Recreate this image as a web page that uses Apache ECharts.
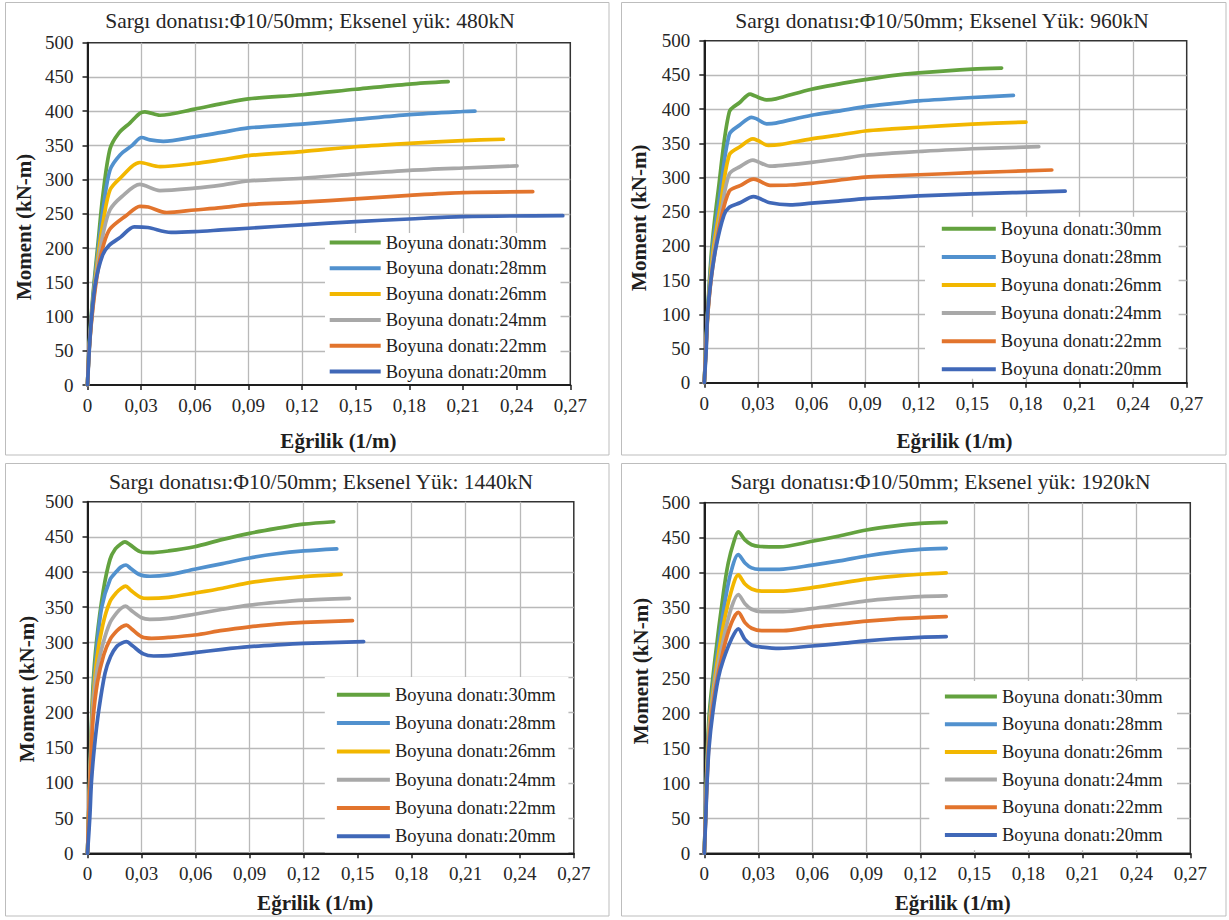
<!DOCTYPE html>
<html>
<head>
<meta charset="utf-8">
<script src="https://cdn.jsdelivr.net/npm/echarts@6/dist/echarts.min.js"></script>
<style>
html,body{margin:0;padding:0;background:#ffffff;}
#chart{width:1229px;height:920px;}
</style>
</head>
<body>
<div id="chart"></div>
<script>
// ---------- DATA ----------
const seriesNames = ['Boyuna donatı:30mm','Boyuna donatı:28mm','Boyuna donatı:26mm','Boyuna donatı:24mm','Boyuna donatı:22mm','Boyuna donatı:20mm'];
const panelTitles = [
  'Sargı donatısı:Φ10/50mm; Eksenel yük: 480kN',
  'Sargı donatısı:Φ10/50mm; Eksenel Yük: 960kN',
  'Sargı donatısı:Φ10/50mm; Eksenel Yük: 1440kN',
  'Sargı donatısı:Φ10/50mm; Eksenel yük: 1920kN'
];
const xAxisName = 'Eğrilik (1/m)';
const yAxisName = 'Moment (kN-m)';
const xRange = [0, 0.27, 0.03];
const yRange = [0, 500, 50];

// Panel 1 : 480 kN  [curvature, moment]
const p1_30 = [[0,0],[0.001,60],[0.003,130],[0.006,210],[0.0085,275],[0.0126,345],[0.0175,368],[0.0238,383],[0.0293,397],[0.0321,399],[0.0405,394],[0.06,403],[0.075,411],[0.09,418],[0.12,424],[0.15,432],[0.18,439.5],[0.2017,443]];
const p1_28 = [[0,0],[0.001,58],[0.003,125],[0.006,200],[0.009,262],[0.0126,314],[0.0182,336],[0.025,350],[0.0303,361.5],[0.0349,358],[0.0424,356],[0.06,362.5],[0.075,369],[0.09,375.5],[0.12,381],[0.15,388],[0.18,395],[0.21,399.5],[0.2167,400]];
const p1_26 = [[0,0],[0.001,56],[0.003,120],[0.006,190],[0.009,242],[0.0126,285],[0.0182,302],[0.0293,325],[0.0405,319],[0.06,323.5],[0.075,329],[0.09,335],[0.12,341],[0.15,348],[0.18,353],[0.21,357],[0.2326,359]];
const p1_24 = [[0,0],[0.001,55],[0.003,115],[0.006,180],[0.009,224],[0.0126,256],[0.0191,275],[0.0293,293],[0.0405,284],[0.06,287.5],[0.075,292],[0.09,298],[0.12,302],[0.15,308],[0.18,313.5],[0.21,317],[0.2402,320]];
const p1_22 = [[0,0],[0.001,54],[0.003,112],[0.006,170],[0.009,205],[0.0126,228],[0.0219,248],[0.0293,261],[0.034,260],[0.0443,252],[0.06,255.6],[0.075,259],[0.09,263.5],[0.12,267],[0.15,272],[0.18,277],[0.21,281],[0.249,282.4]];
const p1_20 = [[0,0],[0.001,52],[0.0023,100],[0.0045,150],[0.0085,190],[0.0121,204],[0.0185,216],[0.0261,231],[0.0337,230],[0.0467,223],[0.06,224],[0.075,226.5],[0.09,229],[0.12,234],[0.15,238.6],[0.18,242.5],[0.21,246],[0.2658,247.3]];

// Panel 2 : 960 kN
const p2_30 = [[0,0],[0.001,60],[0.0022,120],[0.0043,200],[0.008,285],[0.014,396],[0.02,410],[0.0256,422],[0.0285,419],[0.0349,413.5],[0.04,415],[0.06,429],[0.075,436.5],[0.09,443],[0.105,449],[0.12,453],[0.15,458.5],[0.1664,460]];
const p2_28 = [[0,0],[0.001,58],[0.0022,115],[0.0045,195],[0.0085,270],[0.014,363],[0.02,377],[0.0265,388],[0.029,386],[0.0349,378.5],[0.04,379.5],[0.06,391],[0.075,397],[0.09,403.5],[0.105,408],[0.12,412],[0.15,417],[0.173,420]];
const p2_26 = [[0,0],[0.001,56],[0.0022,112],[0.0048,190],[0.009,258],[0.014,333],[0.02,345],[0.0272,356.5],[0.03,354],[0.0358,347],[0.042,348],[0.06,356.5],[0.075,362],[0.09,368],[0.105,371],[0.12,373.5],[0.15,378],[0.18,381]];
const p2_24 = [[0,0],[0.001,54],[0.0022,108],[0.005,183],[0.0095,250],[0.014,305],[0.02,316],[0.0272,325.5],[0.03,323],[0.0368,316.5],[0.045,318],[0.06,322],[0.075,327],[0.09,332.5],[0.105,335.5],[0.12,338],[0.15,342],[0.1872,345]];
const p2_22 = [[0,0],[0.001,52],[0.002,102],[0.0045,165],[0.009,235],[0.014,280],[0.02,288],[0.0275,297.5],[0.03,296],[0.0368,288.5],[0.048,289],[0.06,291.5],[0.075,296],[0.09,300.5],[0.105,302.5],[0.12,304],[0.15,307],[0.1945,311]];
const p2_20 = [[0,0],[0.0011,50],[0.0018,100],[0.0037,150],[0.0067,200],[0.011,245],[0.014,256.5],[0.02,263],[0.0275,272],[0.03,270.5],[0.0368,263],[0.048,260],[0.06,262.5],[0.075,265.5],[0.09,269],[0.105,271],[0.12,273],[0.15,276],[0.202,280]];

// Panel 3 : 1440 kN
const p3_30 = [[0,0],[0.0008,70],[0.0018,150],[0.003,235],[0.0051,303],[0.0088,374],[0.0125,418],[0.0155,433],[0.0185,440],[0.0208,443],[0.0235,439],[0.0291,429],[0.0347,427.5],[0.045,430],[0.0594,436],[0.0745,446],[0.09,455],[0.105,462],[0.12,468],[0.1367,471.5]];
const p3_28 = [[0,0],[0.0008,68],[0.0018,145],[0.003,222],[0.0051,290],[0.0079,350],[0.0125,389],[0.0162,401],[0.0185,407],[0.0214,410],[0.024,405],[0.0291,396],[0.0347,394],[0.045,396],[0.0594,404],[0.075,412],[0.09,420],[0.105,426],[0.12,430],[0.1384,433]];
const p3_26 = [[0,0],[0.0008,66],[0.0018,140],[0.003,212],[0.0051,275],[0.0085,325],[0.0125,358],[0.0162,371],[0.0188,377],[0.0212,380],[0.024,374],[0.0295,364],[0.0335,362.5],[0.045,364],[0.0594,370],[0.075,377],[0.09,385],[0.105,390],[0.12,393.5],[0.1408,396.7]];
const p3_24 = [[0,0],[0.0008,64],[0.0018,134],[0.003,202],[0.0051,258],[0.0088,300],[0.0125,328],[0.0162,342],[0.019,349],[0.0212,351.5],[0.024,346],[0.03,335],[0.0346,332.7],[0.045,334],[0.0594,340],[0.075,347],[0.09,353],[0.105,357],[0.12,360],[0.1454,362.6]];
const p3_22 = [[0,0],[0.0008,60],[0.0018,125],[0.003,188],[0.0055,243],[0.009,282],[0.0125,304],[0.0162,316],[0.019,322],[0.0216,324.6],[0.0245,319],[0.03,308],[0.0356,305.7],[0.045,307],[0.0594,310.4],[0.075,317],[0.09,322],[0.105,326],[0.12,328.4],[0.1471,330.8]];
const p3_20 = [[0,0],[0.0013,52],[0.0022,102],[0.0039,153],[0.0063,204],[0.0097,256],[0.0128,280],[0.0162,294],[0.019,299],[0.0216,301],[0.025,295],[0.031,283.5],[0.0367,280.6],[0.045,281],[0.0594,285.3],[0.075,290],[0.09,293.8],[0.105,296.5],[0.12,298.6],[0.1533,301]];

// Panel 4 : 1920 kN
const p4_30 = [[0,0],[0.0008,70],[0.0016,140],[0.0028,200],[0.0059,276],[0.0106,371],[0.0133,414],[0.0165,445],[0.0189,458.6],[0.0226,447],[0.0263,440],[0.031,437.5],[0.0416,437],[0.06,445],[0.075,452.5],[0.09,461],[0.105,466.5],[0.12,470.5],[0.1344,472]];
const p4_28 = [[0,0],[0.0008,66],[0.0016,130],[0.003,195],[0.006,262],[0.0106,345],[0.0145,398],[0.0189,426],[0.0226,414],[0.0263,407],[0.0308,405],[0.0416,405],[0.06,411],[0.075,417],[0.09,424],[0.105,429.5],[0.12,433.5],[0.1344,435]];
const p4_26 = [[0,0],[0.0008,62],[0.0016,122],[0.003,188],[0.006,252],[0.0106,325],[0.0148,372],[0.0189,397],[0.0226,384],[0.0263,377],[0.0319,374],[0.0438,374],[0.06,378.8],[0.075,385],[0.09,391],[0.105,395],[0.12,398],[0.1344,400]];
const p4_24 = [[0,0],[0.0008,58],[0.0016,115],[0.003,180],[0.006,243],[0.0106,305],[0.015,350],[0.0189,369],[0.0226,356],[0.0263,348],[0.0319,344.6],[0.0438,344.6],[0.06,349],[0.075,354.5],[0.09,360],[0.105,363.5],[0.12,366],[0.1344,367]];
const p4_22 = [[0,0],[0.0008,55],[0.0016,108],[0.003,172],[0.006,232],[0.0106,290],[0.015,328],[0.0189,343.6],[0.0226,329],[0.0263,321],[0.0319,317.5],[0.0438,317.5],[0.06,323],[0.075,327],[0.09,331],[0.105,334],[0.12,336],[0.1344,337.5]];
const p4_20 = [[0,0],[0.0008,50],[0.0015,100],[0.0026,150],[0.0047,200],[0.0078,250],[0.0106,276],[0.015,305],[0.0189,320],[0.0226,305],[0.0263,297],[0.0308,294.5],[0.0416,292.3],[0.06,295.6],[0.075,299],[0.09,303],[0.105,306],[0.12,308],[0.1344,309]];

const panelData = [
  [p1_30,p1_28,p1_26,p1_24,p1_22,p1_20],
  [p2_30,p2_28,p2_26,p2_24,p2_22,p2_20],
  [p3_30,p3_28,p3_26,p3_24,p3_22,p3_20],
  [p4_30,p4_28,p4_26,p4_24,p4_22,p4_20]
];

// ---------- STYLE / LAYOUT ----------
const seriesColors = ['#63A23F','#5191CE','#F2B700','#A8A8A8','#E2742D','#4068B8'];
const FONT = '"Liberation Serif","Times New Roman",serif';
const layout = [
  {grid:{left:87.5,top:42.7,width:482.8,height:342.3}, box:[5.5,2.5,603.5,452.5], title:[310,20.7],
   xGap:45.5, xPad:[0,0,0,19], yGap:53, yPad:[0,26,0,0],
   legend:{left:325,top:233,gap:6.8,iw:51,pad:[0,14,3,4.7]}},
  {grid:{left:704.3,top:40.7,width:482.4,height:342}, box:[621.5,2.5,604.5,452.5], title:[942,20.7],
   xGap:47.8, xPad:[0,0,0,18], yGap:54.8, yPad:[0,12,0,0],
   legend:{left:925,top:216.7,gap:9.1,iw:54,pad:[2.6,17,0,16.8]}},
  {grid:{left:87.5,top:501.7,width:486.3,height:351.6}, box:[5.5,463.5,603.5,452.5], title:[321,482.3],
   xGap:39.2, xPad:[0,31,0,0], yGap:50, yPad:[0,23,0,0],
   legend:{left:324.8,top:677,gap:9.3,iw:53,pad:[8.3,12.7,6.7,12.1]}},
  {grid:{left:704.3,top:502.7,width:486,height:350.6}, box:[621.5,463.5,604.5,452.5], title:[940.5,482.3],
   xGap:39.2, xPad:[0,0,0,11], yGap:52.6, yPad:[0,0,0,14],
   legend:{left:929.3,top:681,gap:8.7,iw:52,pad:[6,14.3,5.7,15.6]}}
];

const fmtX = v => (Math.abs(v) < 1e-9 ? '0' : v.toFixed(2).replace('.', ','));

const grids = [], xAxes = [], yAxes = [], series = [], legends = [], graphics = [];
layout.forEach((L, i) => {
  grids.push(Object.assign({show:true, borderColor:'#333', borderWidth:1.5, backgroundColor:'transparent', containLabel:false}, L.grid));
  xAxes.push({
    gridIndex:i, type:'value', min:xRange[0], max:xRange[1], interval:xRange[2],
    axisLine:{show:true, onZero:false, lineStyle:{color:'#1e1e1e', width:2}},
    axisTick:{show:true, inside:false, length:5, lineStyle:{color:'#1e1e1e', width:1.5}},
    axisLabel:{margin:11, fontSize:19, fontFamily:FONT, color:'#262626', formatter:fmtX, showMaxLabel:true, showMinLabel:true},
    splitLine:{show:true, showMaxLine:false, showMinLine:false, lineStyle:{color:'#b9b9b9', width:1.3}},
    name:xAxisName, nameLocation:'middle', nameGap:L.xGap,
    nameTextStyle:{fontFamily:FONT, fontSize:21, fontWeight:'bold', color:'#1e1e1e', lineHeight:21, padding:L.xPad}
  });
  yAxes.push({
    gridIndex:i, type:'value', min:yRange[0], max:yRange[1], interval:yRange[2],
    axisLine:{show:true, onZero:false, lineStyle:{color:'#1e1e1e', width:2}},
    axisTick:{show:true, inside:false, length:5, lineStyle:{color:'#1e1e1e', width:1.5}},
    axisLabel:{margin:14, fontSize:19, fontFamily:FONT, color:'#262626'},
    splitLine:{show:true, showMaxLine:false, showMinLine:false, lineStyle:{color:'#b9b9b9', width:1.3}},
    name:yAxisName, nameLocation:'middle', nameGap:L.yGap,
    nameTextStyle:{fontFamily:FONT, fontSize:21, fontWeight:'bold', color:'#1e1e1e', lineHeight:21, padding:L.yPad}
  });
  panelData[i].forEach((d, j) => {
    series.push({
      type:'line', name:seriesNames[j], xAxisIndex:i, yAxisIndex:i, data:d,
      symbol:'none', showSymbol:false, smooth:0.3, clip:true,
      lineStyle:{width:3.7, color:seriesColors[j], cap:'round', join:'round'},
      itemStyle:{color:seriesColors[j]}, z:3
    });
  });
  legends.push({
    orient:'vertical', left:L.legend.left, top:L.legend.top, data:seriesNames.slice(),
    icon:'rect', itemWidth:L.legend.iw, itemHeight:4, itemGap:L.legend.gap,
    padding:L.legend.pad, backgroundColor:'#ffffff', selectedMode:false,
    textStyle:{fontFamily:FONT, fontSize:18.5, color:'#1e1e1e', lineHeight:18},
    z:5
  });
  graphics.push({type:'rect', silent:true, z:-1,
    shape:{x:L.box[0], y:L.box[1], width:L.box[2], height:L.box[3]},
    style:{fill:'none', stroke:'#bdbdbd', lineWidth:1}});
  graphics.push({type:'text', silent:true, x:L.title[0], y:L.title[1],
    style:{text:panelTitles[i], fontFamily:FONT, fontSize:21.5, fill:'#262626', align:'center', verticalAlign:'middle'}});
});

const chart = echarts.init(document.getElementById('chart'), null, {renderer:'svg', width:1229, height:920});
chart.setOption({
  animation:false,
  backgroundColor:'#ffffff',
  grid:grids, xAxis:xAxes, yAxis:yAxes, series:series, legend:legends, graphic:graphics
});
</script>
</body>
</html>
